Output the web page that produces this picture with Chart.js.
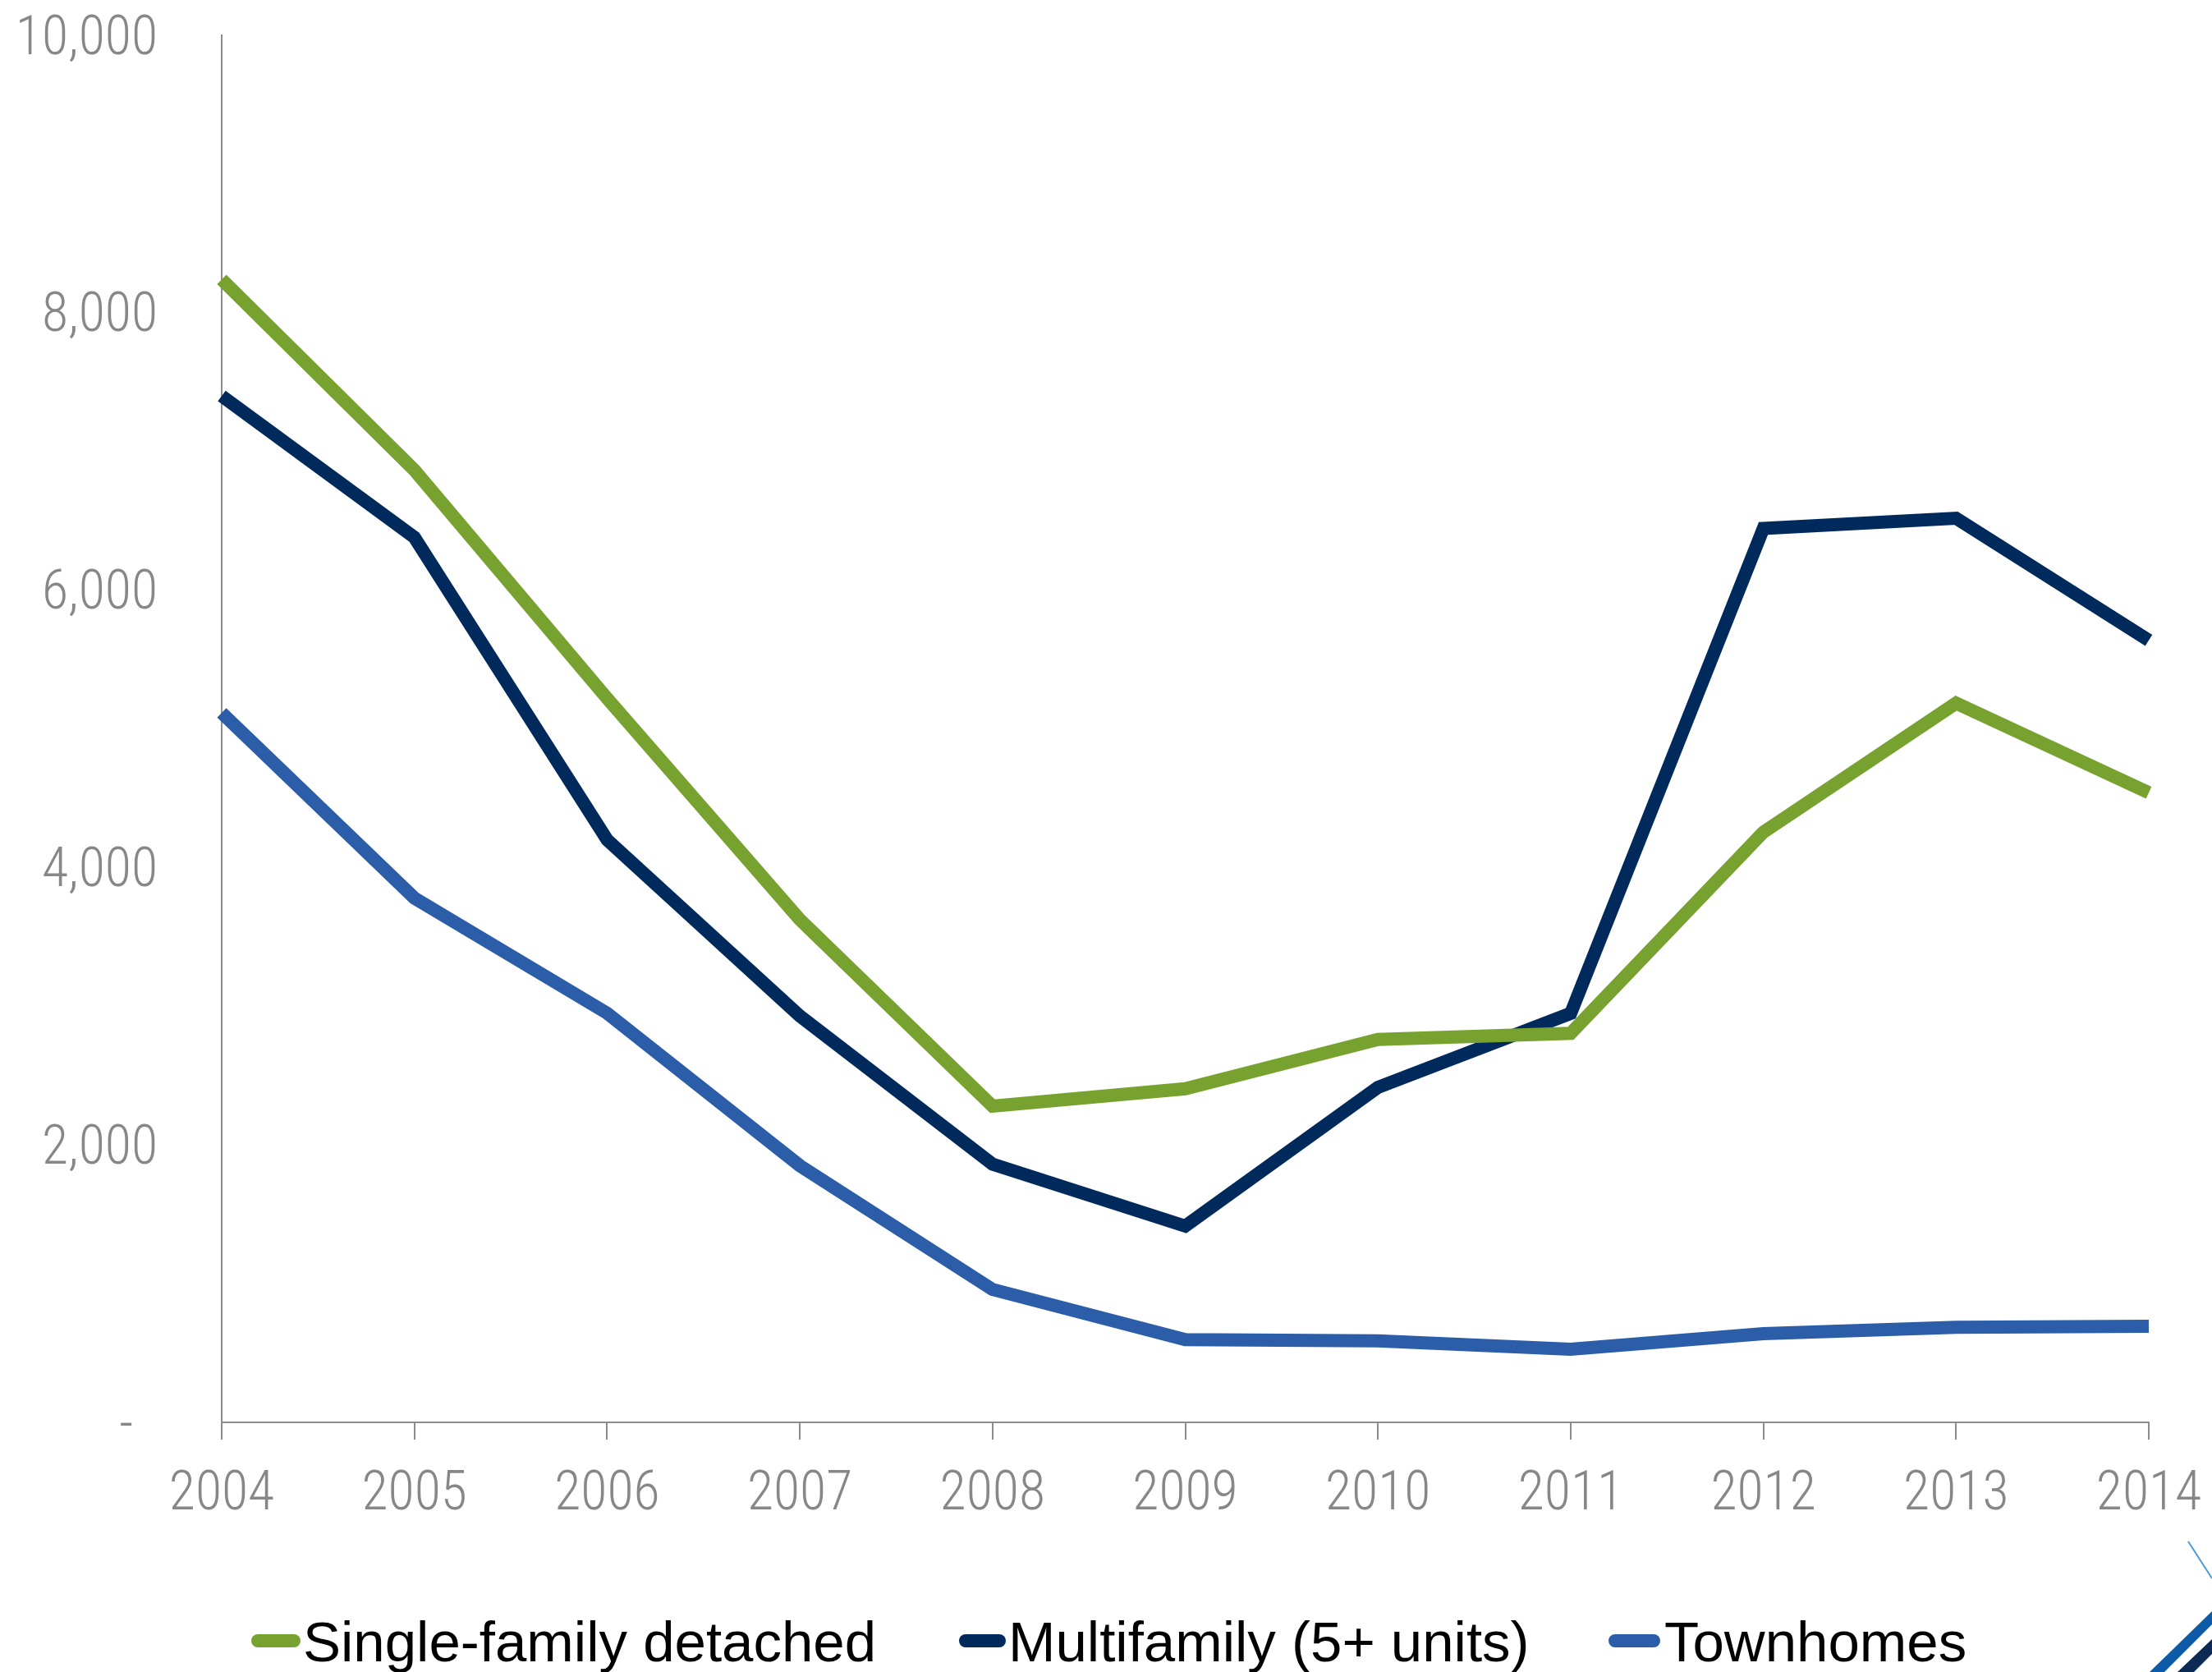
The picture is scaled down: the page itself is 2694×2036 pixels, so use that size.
<!DOCTYPE html>
<html>
<head>
<meta charset="utf-8">
<script src="https://cdn.jsdelivr.net/npm/chart.js@4.4.1/dist/chart.umd.min.js"></script>
<style>
  html, body { margin: 0; padding: 0; background: #fff; overflow: hidden; }
  #wrap { position: absolute; left: 0; top: 0; width: 2694px; height: 2036px; }
  .legend-item { position: absolute; top: 1965px; height: 69px; font-family: 'Liberation Sans', Arial, sans-serif; font-size: 69px; line-height: 69px; color: #000; white-space: nowrap; }
  .legend-mark { position: absolute; height: 16px; border-radius: 8px; top: 1990px; }
  #logo { position: absolute; left: 2580px; top: 1850px; }
</style>
</head>
<body>
<div id="wrap"><canvas id="chart"></canvas></div>
<div id="legend"></div>
<svg id="logo" width="114" height="186" viewBox="0 0 114 186">
  <line x1="85" y1="27" x2="114" y2="72" stroke="#4a9ad8" stroke-width="2"/>
  <polygon points="38,186 114,112 114,128 56,186" fill="#0d5aa7"/>
  <polygon points="72,186 114,146 114,164 92,186" fill="#0b2a55"/>
</svg>

<script>
// values
const years = ['2004', '2005', '2006', '2007', '2008', '2009', '2010', '2011', '2012', '2013', '2014'];
const singleFamily = [8240, 6865, 5220, 3625, 2280, 2405, 2760, 2805, 4255, 5185, 4540];
const multifamily = [7400, 6380, 4200, 2930, 1862, 1415, 2415, 2948, 6445, 6518, 5638];
const townhomes = [5115, 3780, 2950, 1851, 958, 596, 588, 527, 640, 685, 693];
const seriesNames = ['Single-family detached', 'Multifamily (5+ units)', 'Townhomes'];
const seriesColors = ['#78a22f', '#002a5c', '#2c5da9'];

const tickFont = { family: "'Roboto Condensed', 'Open Sans', sans-serif", size: 66, weight: '300' };
const grey = '#878787';

function makeSet(i, data) {
    return {
        label: seriesNames[i],
        data: data,
        borderColor: seriesColors[i],
        backgroundColor: seriesColors[i],
        borderWidth: 16,
        borderJoinStyle: 'miter',
        borderCapStyle: 'butt',
        pointRadius: 0,
        tension: 0,
        fill: false
    };
}

new Chart(document.getElementById('chart').getContext('2d'), {
    type: 'line',
    data: {
        labels: years,
        datasets: [makeSet(0, singleFamily), makeSet(1, multifamily), makeSet(2, townhomes)]
    },
    options: {
        responsive: true,
        maintainAspectRatio: false,
        animation: false,
        layout: { padding: { top: 43, right: 77, bottom: 0, left: 0 } },
        plugins: {
            legend: { display: false },
            tooltip: { enabled: false }
        },
        scales: {
            x: {
                offset: false,
                afterFit: function(scale) {
                    scale.height = 304;
                    scale.paddingLeft = 0;
                    scale.paddingRight = 0;
                },
                border: { display: true, color: '#8c8c8c', width: 2 },
                grid: { display: true, drawOnChartArea: false, drawTicks: true, tickLength: 21, color: '#8c8c8c', lineWidth: 2 },
                ticks: { color: grey, padding: 29, maxRotation: 0, autoSkip: false, font: tickFont }
            },
            y: {
                min: 0,
                max: 10000,
                afterFit: function(scale) {
                    scale.width = 270;
                    scale.paddingTop = 0;
                    scale.paddingBottom = 0;
                },
                border: { display: true, color: '#8c8c8c', width: 2 },
                grid: { display: false, drawTicks: false },
                ticks: {
                    stepSize: 2000,
                    color: grey,
                    padding: 78,
                    labelOffset: 6,
                    font: tickFont,
                    callback: function(value) {
                        if (value === 0) return '-  ';
                        return value.toLocaleString('en-US');
                    }
                }
            }
        }
    }
});

// legend as html text
const legendPos = [[306, 60, 369], [1168, 57, 1228], [1959, 63, 2027]];
const legendEl = document.getElementById('legend');
seriesNames.forEach((name, i) => {
    const mark = document.createElement('div');
    mark.className = 'legend-mark';
    mark.style.left = legendPos[i][0] + 'px';
    mark.style.width = legendPos[i][1] + 'px';
    mark.style.background = seriesColors[i];
    legendEl.appendChild(mark);
    const txt = document.createElement('div');
    txt.className = 'legend-item';
    txt.style.left = legendPos[i][2] + 'px';
    txt.textContent = name;
    legendEl.appendChild(txt);
});
</script>
</body>
</html>
